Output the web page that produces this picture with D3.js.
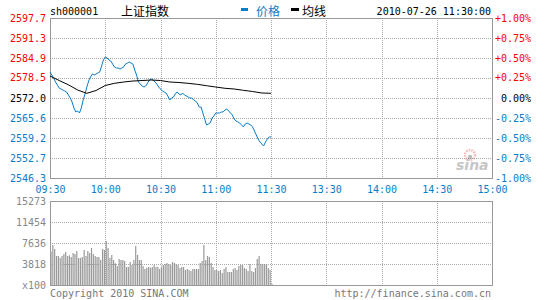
<!DOCTYPE html>
<html>
<head>
<meta charset="utf-8">
<script src="https://cdn.jsdelivr.net/npm/d3@7.9.0/dist/d3.min.js"></script>
<style>
  html, body { margin: 0; padding: 0; background: #fff; }
  svg { display: block; }
  text { font-family: "DejaVu Sans Mono", monospace; font-size: 10px; }
  .cjk { font-family: "Noto Sans CJK SC", sans-serif; font-size: 12px; }
</style>
</head>
<body>
<div id="chart"></div>
<script>
const symbol = 'sh000001';
const indexName = '上证指数';
const stamp = '2010-07-26 11:30:00';
const prevClose = 2572.0;

const priceTicks = [2597.7, 2591.3, 2584.9, 2578.5, 2572.0, 2565.6, 2559.2, 2552.7, 2546.3];
const pctLabels = ['+1.00%', '+0.75%', '+0.50%', '+0.25%', '0.00%', '-0.25%', '-0.50%', '-0.75%', '-1.00%'];
const timeLabels = ['09:30', '10:00', '10:30', '11:00', '11:30', '13:30', '14:00', '14:30', '15:00'];
const volumeTicks = [0, 3818, 7636, 11454, 15273];

// one price per minute, 09:30 .. 11:30
const priceValues = [
  2580.35, 2579.39, 2578.43, 2577.14, 2576.18, 2575.21, 2574.89, 2574.57, 2574.25, 2573.93,
  2572.96, 2572.00, 2570.71, 2568.79, 2567.50, 2567.82, 2567.18, 2568.79, 2571.36, 2573.29,
  2575.53, 2577.46, 2578.75, 2579.71, 2579.39, 2579.71, 2580.03, 2580.35, 2582.28, 2584.21,
  2585.17, 2584.85, 2584.21, 2583.89, 2582.92, 2581.96, 2581.64, 2581.64, 2581.32, 2581.64,
  2581.96, 2582.92, 2583.24, 2583.57, 2583.24, 2582.92, 2581.00, 2579.39, 2577.14, 2576.50,
  2575.86, 2575.53, 2575.86, 2576.82, 2577.78, 2578.10, 2577.78, 2577.14, 2576.50, 2575.53,
  2574.89, 2574.25, 2573.93, 2573.61, 2572.64, 2571.36, 2572.00, 2572.32, 2573.29, 2573.93,
  2573.29, 2572.96, 2573.61, 2572.96, 2572.64, 2572.32, 2572.00, 2572.00, 2571.36, 2571.04,
  2570.39, 2569.11, 2569.11, 2567.18, 2565.25, 2563.33, 2563.65, 2563.97, 2565.57, 2566.22,
  2567.18, 2567.18, 2567.18, 2567.50, 2567.50, 2568.14, 2568.47, 2567.82, 2567.18, 2566.54,
  2565.25, 2564.61, 2564.29, 2563.97, 2563.33, 2562.68, 2563.65, 2563.97, 2563.65, 2563.33,
  2562.68, 2561.40, 2560.11, 2558.83, 2557.86, 2557.22, 2556.58, 2557.86, 2558.83, 2559.47,
  2559.47
];

// average price, every 5 minutes
const avgValues = [
  2579.07, 2577.62, 2576.24, 2574.57, 2573.51, 2574.41, 2576.02, 2576.72, 2577.14, 2577.46,
  2577.62, 2577.78, 2577.62, 2577.14, 2576.98, 2576.72, 2576.40, 2575.95, 2575.53, 2575.12,
  2574.89, 2574.47, 2574.09, 2573.61, 2573.51
];

// volume per minute, in hundreds
const volumeValues = [
  6054, 7273, 6545, 5273, 5273, 4909, 5273, 5636, 6000, 5273,
  5400, 5091, 5818, 5636, 6182, 4909, 4909, 5091, 6364, 5273,
  6182, 5818, 6727, 5636, 5273, 5091, 5091, 4545, 6545, 6364,
  8000, 6727, 4909, 5454, 4545, 3945, 3454, 4727, 4545, 4545,
  4364, 3272, 3272, 4182, 3636, 4545, 7091, 5454, 4545, 4545,
  3454, 2909, 3145, 3272, 3145, 3272, 3636, 3272, 3272, 2909,
  3327, 3636, 3818, 4000, 3818, 3636, 4182, 4000, 3818, 3636,
  3091, 3272, 3272, 2727, 2909, 2727, 2545, 2909, 2909, 2909,
  2909, 4000, 4364, 7273, 4545, 5273, 5091, 4000, 3272, 2727,
  2727, 2545, 2727, 2182, 2909, 3272, 2363, 2363, 2363, 2909,
  3091, 2727, 3454, 3636, 3636, 3091, 2909, 2545, 3818, 2545,
  2363, 3091, 4727, 5273, 3818, 3818, 3818, 3818, 3091, 2727,
  182
];

const blue = '#0a7cc8';
const red = '#ff0000';
const gridColor = '#aaa';
const frameColor = '#999';

const width = 545;
const height = 300;
const plot = { left: 50, right: 492, top: 18, bottom: 178 };
const vol = { top: 201, bottom: 285 };

const svg = d3.select('#chart').append('svg')
  .attr('width', width)
  .attr('height', height);

const x = d3.scaleLinear().domain([0, 240]).range([plot.left, plot.right]);
const y = d3.scaleLinear().domain([prevClose * 0.99, prevClose * 1.01]).range([plot.bottom, plot.top]);
const yv = d3.scaleLinear().domain([0, volumeTicks[volumeTicks.length - 1]]).range([vol.bottom, vol.top]);

const timeTicks = timeLabels.map((d, i) => i * 30);

function labelColor(i) {
  if (i < 4) return red;
  if (i === 4) return '#000';
  return blue;
}

// gridlines
const grid = svg.append('g')
  .attr('stroke', gridColor)
  .attr('stroke-dasharray', '1,1')
  .attr('shape-rendering', 'crispEdges');

grid.selectAll('.hp')
  .data(priceTicks.slice(1, -1))
  .join('line')
  .attr('x1', plot.left).attr('x2', plot.right)
  .attr('y1', (d) => Math.round(y(d)) + 0.5).attr('y2', (d) => Math.round(y(d)) + 0.5);

grid.selectAll('.hv')
  .data(volumeTicks.slice(1, -1))
  .join('line')
  .attr('x1', plot.left).attr('x2', plot.right)
  .attr('y1', (d) => Math.round(yv(d)) + 0.5).attr('y2', (d) => Math.round(yv(d)) + 0.5);

for (const [top, bottom] of [[plot.top, plot.bottom], [vol.top, vol.bottom]]) {
  grid.append('g').selectAll('line')
    .data(timeTicks.slice(1, -1))
    .join('line')
    .attr('x1', (d) => Math.round(x(d)) + 0.5).attr('x2', (d) => Math.round(x(d)) + 0.5)
    .attr('y1', top).attr('y2', bottom);
}

// volume bars
svg.append('g')
  .attr('fill', '#999')
  .selectAll('rect')
  .data(volumeValues)
  .join('rect')
  .attr('x', (d, i) => x(i) + 0.4)
  .attr('width', 1.2)
  .attr('y', (d) => yv(d))
  .attr('height', (d) => yv(0) - yv(d));

// frames
for (const [top, bottom] of [[plot.top, plot.bottom], [vol.top, vol.bottom]]) {
  svg.append('rect')
    .attr('x', plot.left + 0.5)
    .attr('y', top + 0.5)
    .attr('width', plot.right - plot.left)
    .attr('height', bottom - top)
    .attr('fill', 'none')
    .attr('stroke', frameColor)
    .attr('shape-rendering', 'crispEdges');
}

// sina watermark
const logo = svg.append('g').attr('opacity', 0.55);
logo.append('circle')
  .attr('cx', 470).attr('cy', 155).attr('r', 5)
  .attr('fill', 'none').attr('stroke', '#f08080').attr('stroke-width', 2.5)
  .attr('stroke-dasharray', '1.5,1.2');
logo.append('circle')
  .attr('cx', 470).attr('cy', 157).attr('r', 2.2)
  .attr('fill', '#888');
logo.append('text')
  .attr('x', 456).attr('y', 170)
  .style('font-family', 'DejaVu Sans, sans-serif')
  .style('font-size', '14px')
  .style('font-weight', 'bold')
  .style('font-style', 'italic')
  .attr('fill', '#999')
  .text('sina');

// lines
const priceLine = d3.line()
  .x((d, i) => x(i))
  .y((d) => y(d));

const avgLine = d3.line()
  .x((d, i) => x(i * 5))
  .y((d) => y(d));

svg.append('path')
  .datum(priceValues)
  .attr('fill', 'none')
  .attr('stroke', blue)
  .attr('stroke-width', 1)
  .attr('d', priceLine);

svg.append('path')
  .datum(avgValues)
  .attr('fill', 'none')
  .attr('stroke', '#000')
  .attr('stroke-width', 1)
  .attr('d', avgLine);

// axes
const leftAxis = svg.append('g')
  .attr('transform', `translate(${plot.left},0)`)
  .call(d3.axisLeft(y).tickValues(priceTicks).tickSize(0).tickPadding(4).tickFormat(d3.format('.1f')));
leftAxis.select('.domain').remove();
leftAxis.selectAll('text')
  .attr('fill', (d, i) => labelColor(i))
  .style('font-family', '"DejaVu Sans Mono", monospace')
  .style('font-size', '10px');

const rightAxis = svg.append('g')
  .attr('transform', `translate(${plot.right},0)`)
  .call(d3.axisRight(y).tickValues(priceTicks).tickSize(0).tickFormat((d, i) => pctLabels[i]));
rightAxis.select('.domain').remove();
rightAxis.selectAll('text')
  .attr('x', 39)
  .attr('text-anchor', 'end')
  .attr('fill', (d, i) => labelColor(i))
  .style('font-family', '"DejaVu Sans Mono", monospace')
  .style('font-size', '10px');

const timeAxis = svg.append('g')
  .attr('transform', `translate(0,${plot.bottom})`)
  .call(d3.axisBottom(x).tickValues(timeTicks).tickSize(0).tickPadding(8).tickFormat((d, i) => timeLabels[i]));
timeAxis.select('.domain').remove();
timeAxis.selectAll('text')
  .attr('fill', blue)
  .style('font-family', '"DejaVu Sans Mono", monospace')
  .style('font-size', '10px');

const volAxis = svg.append('g')
  .attr('transform', `translate(${plot.left},0)`)
  .call(d3.axisLeft(yv).tickValues(volumeTicks).tickSize(0).tickPadding(4).tickFormat((d) => (d === 0 ? 'x100' : d)));
volAxis.select('.domain').remove();
volAxis.selectAll('text')
  .attr('fill', '#888')
  .style('font-family', '"DejaVu Sans Mono", monospace')
  .style('font-size', '10px');

// header
svg.append('text').attr('x', 50).attr('y', 15).attr('fill', '#000').text(symbol);
svg.append('text').attr('class', 'cjk').attr('x', 121).attr('y', 16).attr('fill', '#000').text(indexName);

svg.append('rect').attr('x', 241).attr('y', 8).attr('width', 7).attr('height', 3).attr('fill', blue);
svg.append('text').attr('class', 'cjk').attr('x', 256).attr('y', 16).attr('fill', blue).text('价格');
svg.append('rect').attr('x', 291).attr('y', 8).attr('width', 8).attr('height', 3).attr('fill', '#000');
svg.append('text').attr('class', 'cjk').attr('x', 302).attr('y', 16).attr('fill', '#000').text('均线');

svg.append('text').attr('x', 491).attr('y', 15).attr('text-anchor', 'end').attr('fill', '#000').text(stamp);

// footer
svg.append('text').attr('x', 50).attr('y', 296.5).attr('fill', '#777').text('Copyright 2010 SINA.COM');
svg.append('text').attr('x', 491).attr('y', 296.5).attr('text-anchor', 'end').attr('fill', '#777').text('http://finance.sina.com.cn');
</script>
</body>
</html>
